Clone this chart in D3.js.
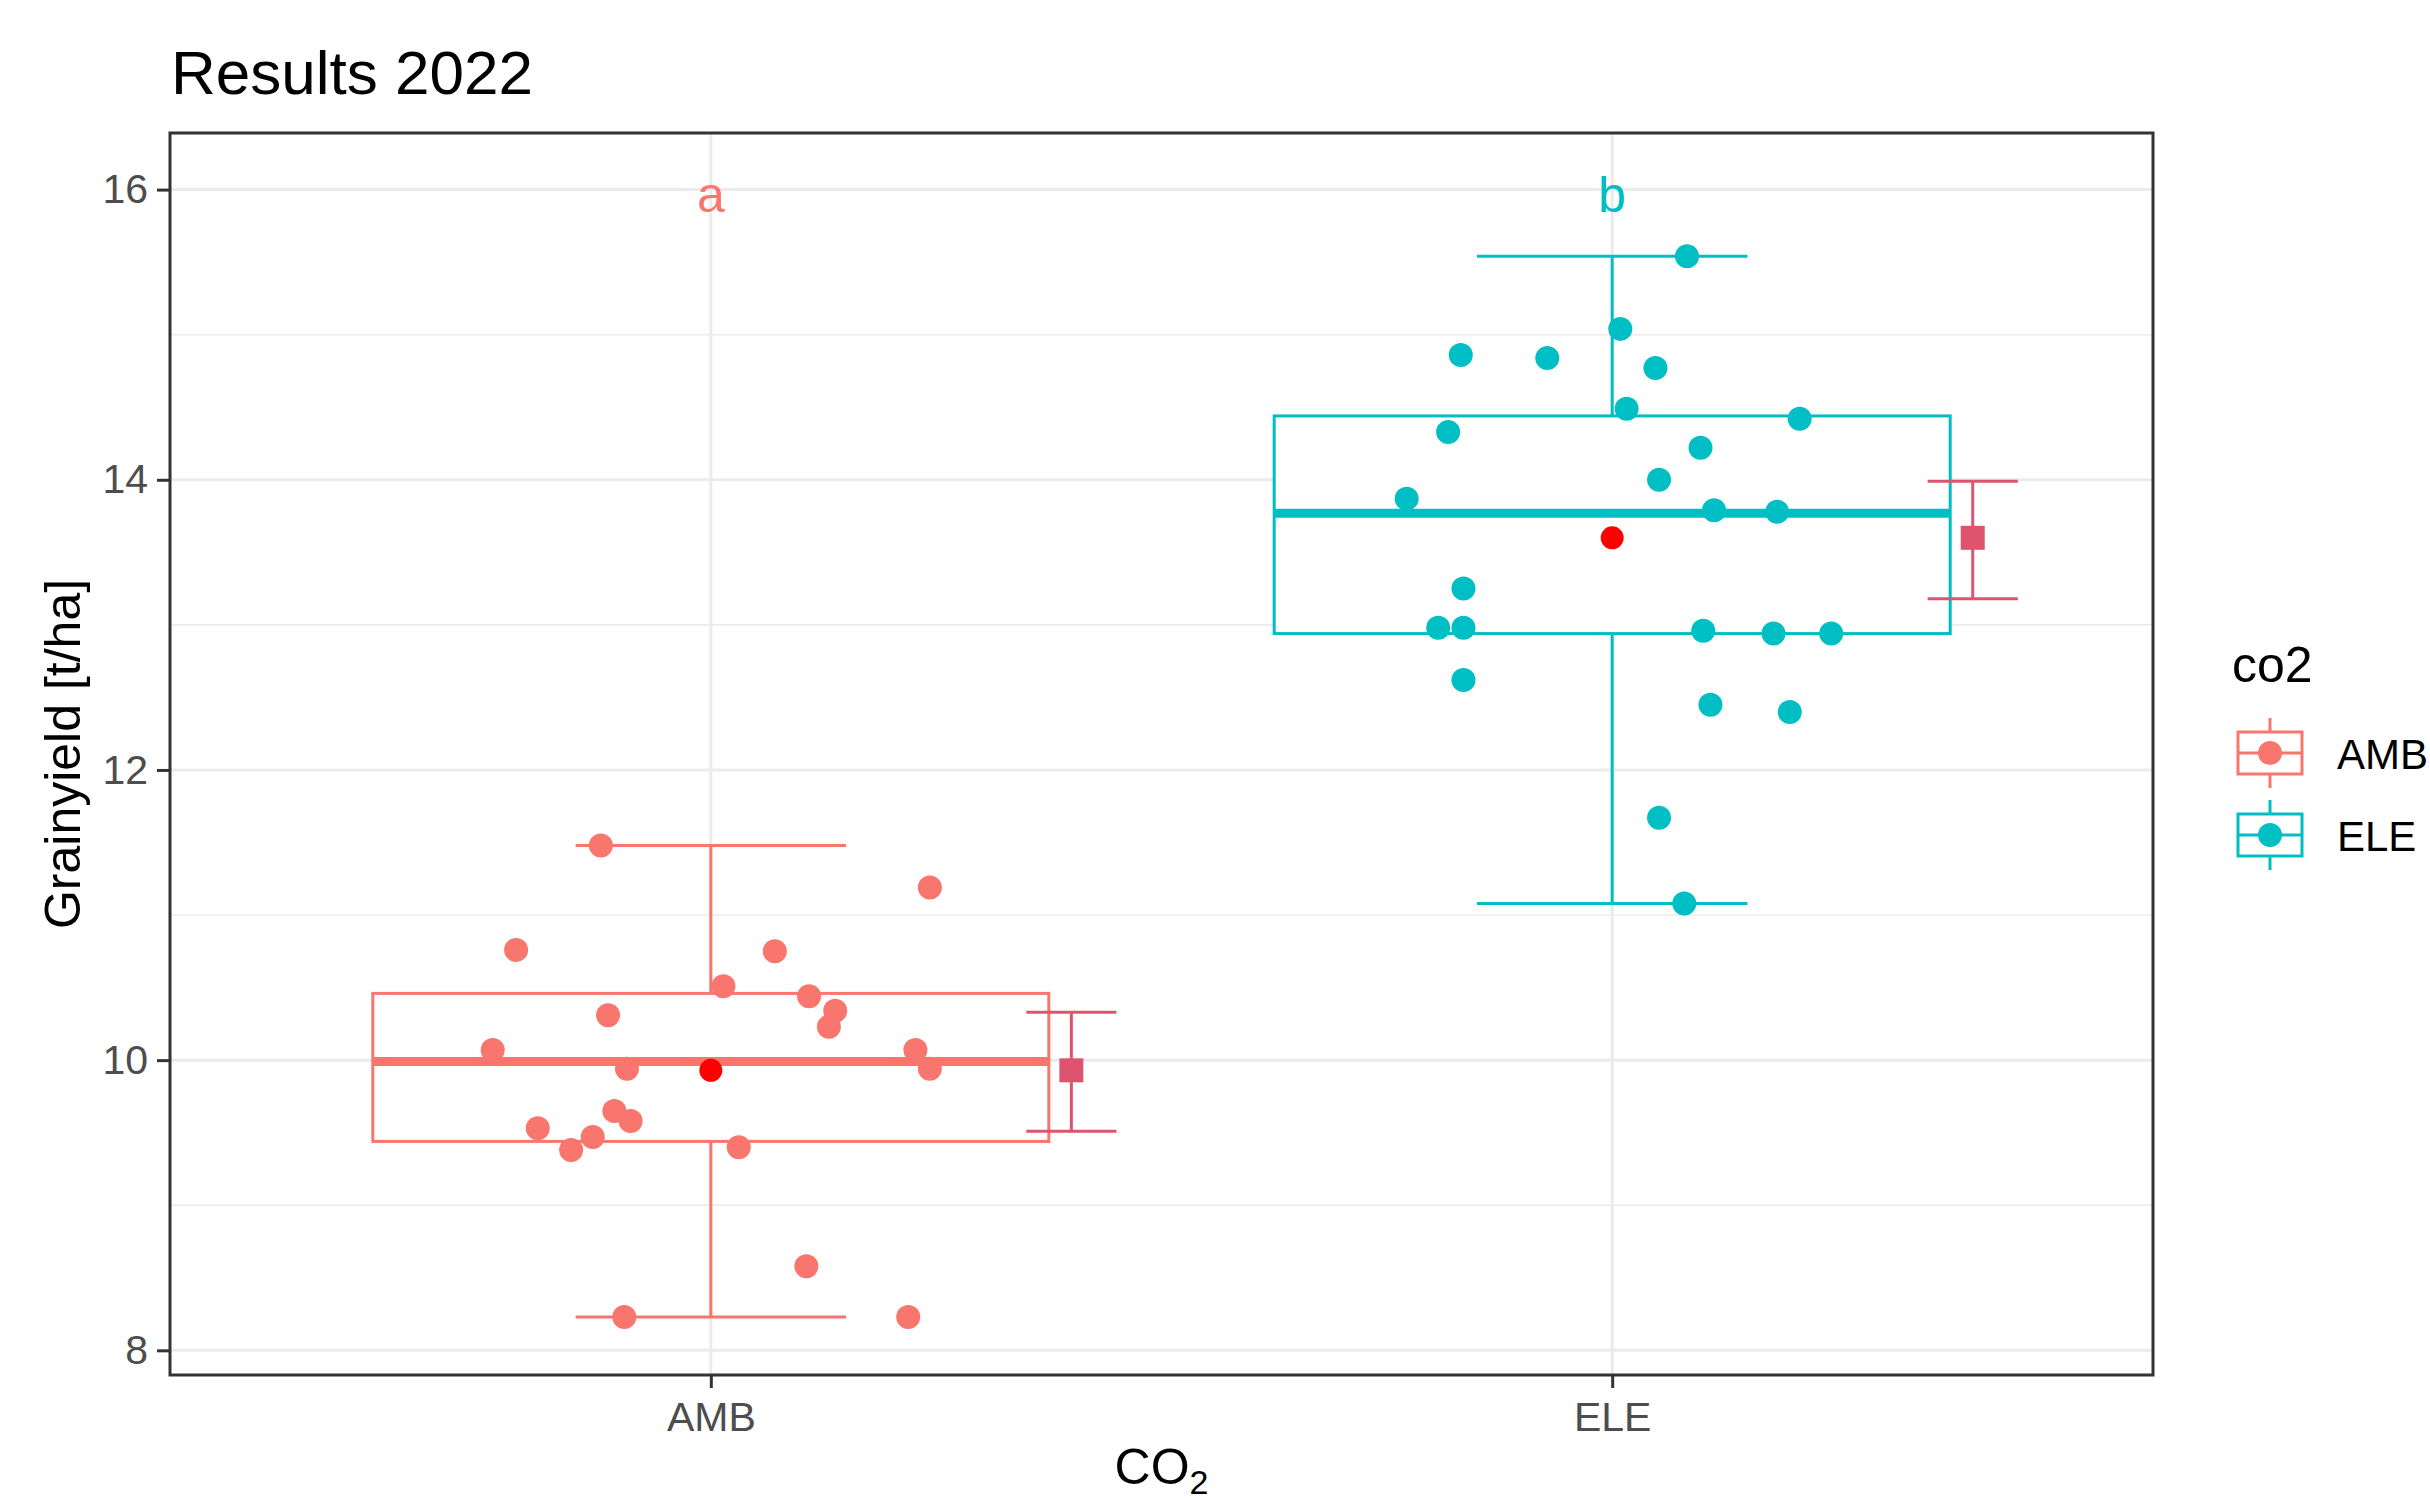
<!DOCTYPE html>
<html>
<head>
<meta charset="utf-8">
<script src="https://cdn.jsdelivr.net/npm/d3@7"></script>
<style>
    body { margin: 0; background: white; }
    text { font-family: "Liberation Sans", Arial, sans-serif; }
</style>
</head>
<body>
<svg id="chart"></svg>
<script>
// categories
const groups = ["AMB", "ELE"];
const letters = ["a", "b"];
const colors = ["#F8766D", "#00BFC4"];

// grain yield per plot, jitter offsets (in category units)
const ambYield = [11.48, 11.19, 10.76, 10.75, 10.51, 10.44, 10.34, 10.31, 10.23, 10.07, 10.07,
    9.94, 9.94, 9.65, 9.58, 9.53, 9.47, 9.38, 9.40, 8.58, 8.23, 8.23];
const ambJitter = [-0.122, 0.243, -0.216, 0.071, 0.014, 0.109, 0.138, -0.114, 0.131, -0.242, 0.227,
    -0.093, 0.243, -0.107, -0.089, -0.192, -0.131, -0.155, 0.031, 0.106, -0.096, 0.219];
const eleYield = [15.54, 15.04, 14.86, 14.84, 14.77, 14.49, 14.42, 14.33, 14.22, 14.00, 13.87, 13.79,
    13.78, 13.25, 12.98, 12.98, 12.96, 12.94, 12.94, 12.62, 12.45, 12.40, 11.67, 11.08];
const eleJitter = [0.083, 0.009, -0.168, -0.072, 0.048, 0.016, 0.208, -0.182, 0.098, 0.052, -0.228, 0.113,
    0.183, -0.165, -0.193, -0.165, 0.101, 0.179, 0.243, -0.165, 0.109, 0.197, 0.052, 0.080];

// boxplot stats
const whiskerLow = [8.23, 11.08];
const q1 = [9.44, 12.94];
const median = [9.99, 13.77];
const q3 = [10.46, 14.44];
const whiskerHigh = [11.48, 15.54];

// mean +- se
const means = [9.93, 13.60];
const seLow = [9.51, 13.18];
const seHigh = [10.33, 13.99];

const yTicks = [8, 10, 12, 14, 16];
const yMinor = [9, 11, 13, 15];

const W = 2430, H = 1500;
const margin = { top: 133, right: 277, bottom: 125, left: 170 };
const innerW = W - margin.left - margin.right;
const innerH = H - margin.top - margin.bottom;

const svg = d3.select("#chart").attr("width", W).attr("height", H);
svg.append("rect").attr("width", W).attr("height", H).attr("fill", "white");

const x = d3.scalePoint().domain(groups).range([0, innerW]).padding(0.6);
const y = d3.scaleLinear().domain([7.83, 16.39]).range([innerH, 0]);
const step = x.step();
const color = d3.scaleOrdinal().domain(groups).range(colors);

const g = svg.append("g").attr("transform", `translate(${margin.left}, ${margin.top})`);

// grid
g.selectAll(".minor").data(yMinor).join("line")
    .attr("x1", 0).attr("x2", innerW)
    .attr("y1", d => y(d)).attr("y2", d => y(d))
    .attr("stroke", "#EBEBEB").attr("stroke-width", 1.6);
g.selectAll(".major").data(yTicks).join("line")
    .attr("x1", 0).attr("x2", innerW)
    .attr("y1", d => y(d)).attr("y2", d => y(d))
    .attr("stroke", "#EBEBEB").attr("stroke-width", 3);
g.selectAll(".vmajor").data(groups).join("line")
    .attr("x1", d => x(d)).attr("x2", d => x(d))
    .attr("y1", 0).attr("y2", innerH)
    .attr("stroke", "#EBEBEB").attr("stroke-width", 3);

const stats = groups.map((name, i) => ({
    name, i, lo: whiskerLow[i], q1: q1[i], med: median[i], q3: q3[i], hi: whiskerHigh[i],
    mean: means[i], seLow: seLow[i], seHigh: seHigh[i], letter: letters[i]
}));

// whisker caps + whiskers
const box = g.selectAll(".box").data(stats).join("g").attr("stroke", d => color(d.name));
box.append("line")
    .attr("x1", d => x(d.name)).attr("x2", d => x(d.name))
    .attr("y1", d => y(d.q3)).attr("y2", d => y(d.hi)).attr("stroke-width", 3);
box.append("line")
    .attr("x1", d => x(d.name)).attr("x2", d => x(d.name))
    .attr("y1", d => y(d.q1)).attr("y2", d => y(d.lo)).attr("stroke-width", 3);
[d => d.hi, d => d.lo].forEach(f => {
    box.append("line")
        .attr("x1", d => x(d.name) - 0.15 * step).attr("x2", d => x(d.name) + 0.15 * step)
        .attr("y1", d => y(f(d))).attr("y2", d => y(f(d))).attr("stroke-width", 3);
});
box.append("rect")
    .attr("x", d => x(d.name) - 0.375 * step).attr("width", 0.75 * step)
    .attr("y", d => y(d.q3)).attr("height", d => y(d.q1) - y(d.q3))
    .attr("fill", "white").attr("stroke-width", 3);
box.append("line")
    .attr("x1", d => x(d.name) - 0.375 * step).attr("x2", d => x(d.name) + 0.375 * step)
    .attr("y1", d => y(d.med)).attr("y2", d => y(d.med)).attr("stroke-width", 9);

// jittered points
const points = [
    ...ambYield.map((v, k) => ({ name: "AMB", value: v, jit: ambJitter[k] })),
    ...eleYield.map((v, k) => ({ name: "ELE", value: v, jit: eleJitter[k] }))
];
g.selectAll(".pt").data(points).join("circle")
    .attr("cx", d => x(d.name) + d.jit * step)
    .attr("cy", d => y(d.value))
    .attr("r", 12)
    .attr("fill", d => color(d.name));

// mean dot
g.selectAll(".mean").data(stats).join("circle")
    .attr("cx", d => x(d.name)).attr("cy", d => y(d.mean))
    .attr("r", 11.5).attr("fill", "#FF0000");

// mean +- se, nudged right
const ebColor = "#DE546E";
const eb = g.selectAll(".eb").data(stats).join("g")
    .attr("transform", d => `translate(${x(d.name) + 0.4 * step}, 0)`)
    .attr("stroke", ebColor).attr("stroke-width", 3);
eb.append("line").attr("y1", d => y(d.seLow)).attr("y2", d => y(d.seHigh));
eb.append("line").attr("x1", -0.05 * step).attr("x2", 0.05 * step)
    .attr("y1", d => y(d.seLow)).attr("y2", d => y(d.seLow));
eb.append("line").attr("x1", -0.05 * step).attr("x2", 0.05 * step)
    .attr("y1", d => y(d.seHigh)).attr("y2", d => y(d.seHigh));
eb.append("rect").attr("x", -12).attr("width", 24)
    .attr("y", d => y(d.mean) - 12).attr("height", 24)
    .attr("fill", ebColor).attr("stroke", "none");

// significance letters
g.selectAll(".letter").data(stats).join("text")
    .attr("x", d => x(d.name)).attr("y", y(16) + 22)
    .attr("text-anchor", "middle")
    .style("font-size", "50px")
    .attr("fill", d => color(d.name))
    .text(d => d.letter);

// panel border
g.append("rect").attr("width", innerW).attr("height", innerH)
    .attr("fill", "none").attr("stroke", "#333333").attr("stroke-width", 3);

// axes
const yAxis = g.append("g").call(d3.axisLeft(y).tickValues(yTicks).tickSize(13).tickPadding(9));
const xAxis = g.append("g").attr("transform", `translate(0, ${innerH})`)
    .call(d3.axisBottom(x).tickSize(13).tickPadding(14));
[yAxis, xAxis].forEach(a => {
    a.select(".domain").remove();
    a.selectAll(".tick line").attr("stroke", "#333333").attr("stroke-width", 3);
    a.selectAll(".tick text").attr("fill", "#4D4D4D")
        .style("font-size", "41px").style("font-family", "'Liberation Sans', Arial, sans-serif");
});

// titles
svg.append("text").attr("x", 171).attr("y", 94)
    .style("font-size", "62px").attr("fill", "black").text("Results 2022");

svg.append("text")
    .attr("transform", `translate(80, ${margin.top + innerH / 2}) rotate(-90)`)
    .attr("text-anchor", "middle")
    .style("font-size", "50px").text("Grainyield [t/ha]");

// axis title sits at the very bottom edge, like the original
const xt = svg.append("text").attr("x", margin.left + innerW / 2).attr("y", 1484)
    .attr("text-anchor", "middle").style("font-size", "50px");
xt.append("tspan").text("CO");
xt.append("tspan").attr("dy", 10).style("font-size", "34px").text("2");

// legend
const legend = svg.append("g").attr("transform", "translate(2232, 0)");
legend.append("text").attr("x", 0).attr("y", 682).style("font-size", "50px").text("co2");
const keys = legend.selectAll(".key").data(groups).join("g")
    .attr("transform", (d, i) => `translate(38, ${753 + i * 82})`);
keys.append("line").attr("y1", -35).attr("y2", 35)
    .attr("stroke", d => color(d)).attr("stroke-width", 3);
keys.append("rect").attr("x", -32).attr("width", 64).attr("y", -21).attr("height", 42)
    .attr("fill", "white").attr("stroke", d => color(d)).attr("stroke-width", 3);
keys.append("line").attr("x1", -32).attr("x2", 32)
    .attr("stroke", d => color(d)).attr("stroke-width", 3);
keys.append("circle").attr("r", 12).attr("fill", d => color(d));
keys.append("text").attr("x", 67).attr("y", 16)
    .style("font-size", "42px").attr("fill", "black").text(d => d);
</script>
</body>
</html>
